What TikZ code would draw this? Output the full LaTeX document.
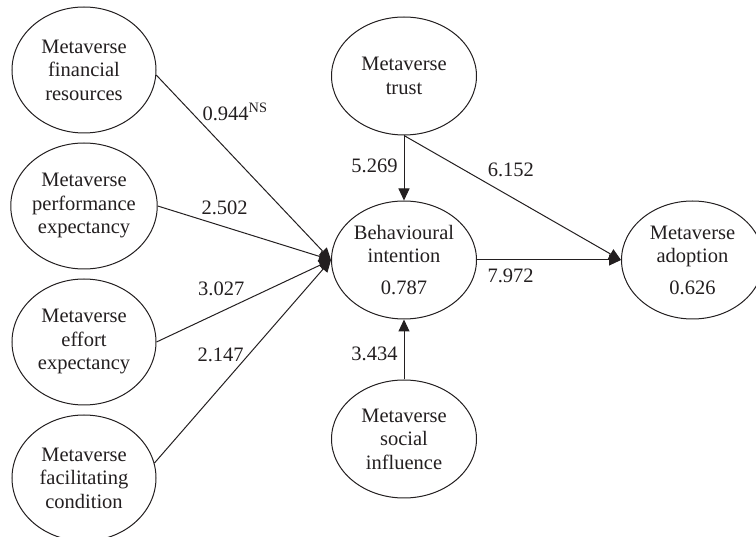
\documentclass[tikz,border=0pt]{standalone}
\usepackage{fontspec}
\setmainfont{Liberation Serif}
\usepackage{xcolor}
\usepackage{tikz}
\usetikzlibrary{positioning,arrows.meta,shapes.geometric}
\definecolor{semInk}{HTML}{231F20}
\definecolor{semWhite}{HTML}{FFFFFF}
\tikzset{
  sem-latent/.style={
    draw=semInk, ellipse, line width=1pt, fill=semWhite,
    font=\fontsize{20.5}{23.5}\selectfont, align=center, text=semInk,
    inner sep=0pt, minimum width=144pt, minimum height=126pt
  },
  sem-inner/.style={sem-latent, minimum width=145pt, minimum height=118pt},
  sem-path/.style={-{Triangle[length=12pt,width=11pt]}, line width=1pt,
    draw=semInk},
  sem-coef/.style={font=\fontsize{20.5}{23.5}\selectfont, text=semInk,
    inner sep=0pt}
}
\begin{document}
\begin{tikzpicture}[x=1pt, y=-1pt]
\useasboundingbox (0,0) rectangle (756,537);

% exogenous constructs
\node[sem-latent] (fin) at (84,70) {Metaverse\\financial\\resources};
\node[sem-latent, below=9pt of fin] (perf) {Metaverse\\performance\\expectancy};
\node[sem-latent, below=9pt of perf] (eff) {Metaverse\\effort\\expectancy};
\node[sem-latent, below=9pt of eff] (fac) {Metaverse\\facilitating\\condition};

% endogenous constructs
\node[sem-inner] (bi) at (404,260) {Behavioural\\intention\\[8pt]0.787};
\node[sem-inner, above=65pt of bi] (trust) {Metaverse\\trust};
\node[sem-inner, below=60pt of bi] (soc) {Metaverse\\social\\influence};
\node[sem-inner, right=144pt of bi, minimum width=142pt] (adopt)
  {Metaverse\\adoption\\[8pt]0.626};

\draw[sem-path] (fin.-4) -- (bi.west)
  node[sem-coef, pos=.245, anchor=base west, xshift=3pt] {0.944\textsuperscript{NS}};
\draw[sem-path] (perf.east) -- (bi.west)
  node[sem-coef, pos=.25, anchor=base west, yshift=5pt] {2.502};
\draw[sem-path] (eff.east) -- (bi.west)
  node[sem-coef, pos=.506, anchor=base east, yshift=5pt] {3.027};
\draw[sem-path] (fac.12) -- (bi.west)
  node[sem-coef, pos=.508, anchor=base east, yshift=-2pt] {2.147};
\draw[sem-path] (trust.south) -- (bi.north)
  node[sem-coef, pos=.57, anchor=base east, xshift=-6pt] {5.269};
\draw[sem-path] (trust.south) -- (adopt.west)
  node[sem-coef, pos=.384, anchor=base west, yshift=7pt] {6.152};
\draw[sem-path] (bi.east) -- (adopt.west)
  node[sem-coef, pos=.07, anchor=base west, yshift=-23pt] {7.972};
\draw[sem-path] (soc.north) -- (bi.south)
  node[sem-coef, pos=.317, anchor=base east, xshift=-6pt] {3.434};
\end{tikzpicture}
\end{document}
